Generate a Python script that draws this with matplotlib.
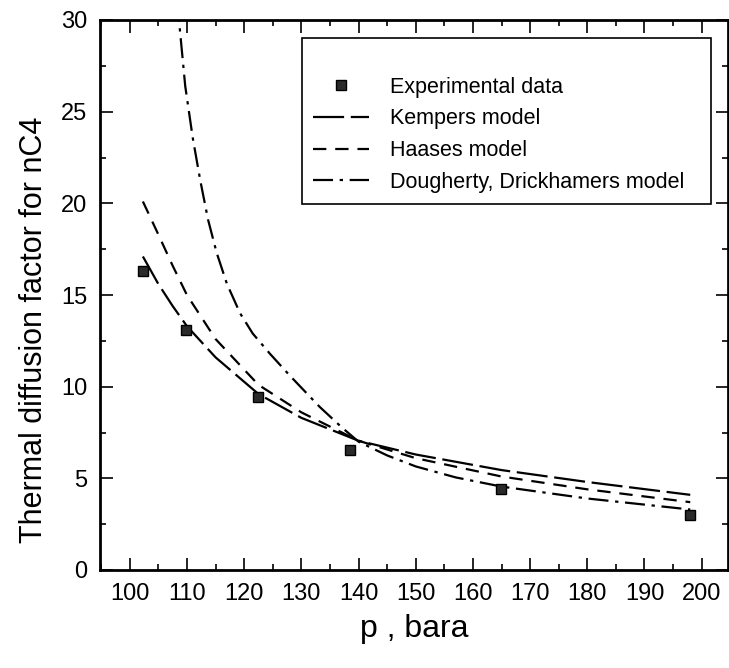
import numpy as np
import matplotlib
matplotlib.use('Agg')
import matplotlib.pyplot as plt
from matplotlib.ticker import MultipleLocator

plt.rcParams['font.family'] = ['Liberation Sans', 'DejaVu Sans']

# experimental points
p_exp = [102.3, 109.9, 122.5, 138.5, 164.9, 198.0]
a_exp = [16.3, 13.1, 9.46, 6.52, 4.40, 2.99]

# model curves
p_kemp = [102.3, 105, 107.5, 110, 115, 122.5, 130, 140, 150, 165, 180, 198]
a_kemp = [17.1, 15.6, 14.4, 13.3, 11.6, 9.6, 8.3, 7.05, 6.3, 5.45, 4.8, 4.1]

p_haas = [102.3, 105, 107.5, 110, 115, 122.5, 130, 140, 150, 165, 180, 198]
a_haas = [20.1, 18.3, 16.6, 15.0, 12.6, 10.1, 8.6, 7.05, 6.1, 5.1, 4.4, 3.7]

p_doug = [108.3, 109.7, 111, 112.3, 113.7, 115.2, 117, 119.3, 121.5, 124.5,
          128, 133.2, 137, 140, 145, 150, 157, 165, 180, 198]
a_doug = [31.0, 26.4, 23.6, 21.3, 19.1, 17.3, 15.6, 14.0, 12.9, 11.8,
          10.6, 8.9, 7.8, 7.0, 6.25, 5.65, 5.05, 4.55, 3.9, 3.3]

fig = plt.figure(figsize=(7.29, 6.68), dpi=100)
ax = fig.add_axes([100/729, 1-570/668, 628/729, 550/668])

ax.plot(p_exp, a_exp, linestyle='none', marker='s', markersize=7.5,
        markerfacecolor='#2a2a2a', markeredgecolor='black', markeredgewidth=1,
        label='Experimental data', zorder=3)
ax.plot(p_kemp, a_kemp, color='black', lw=1.6, dashes=(14, 3), label='Kempers model')
ax.plot(p_haas, a_haas, color='black', lw=1.6, dashes=(6, 4), label='Haases model')
ax.plot(p_doug, a_doug, color='black', lw=1.6, dashes=(9, 3, 1.5, 3),
        label='Dougherty, Drickhamers model')

ax.set_xlim(94.8, 204.6)
ax.set_ylim(0, 30)
ax.xaxis.set_major_locator(MultipleLocator(10))
ax.xaxis.set_minor_locator(MultipleLocator(5))
ax.yaxis.set_major_locator(MultipleLocator(5))
ax.yaxis.set_minor_locator(MultipleLocator(2.5))
ax.set_xticks(np.arange(100, 201, 10))
ax.tick_params(which='both', direction='in', top=True, right=True,
               labelsize=17, width=1.2, pad=9)
ax.tick_params(which='major', length=9)
ax.tick_params(which='minor', length=4)
for s in ax.spines.values():
    s.set_linewidth(2)

ax.set_xlabel('p , bara', fontsize=23, labelpad=7)
ax.set_ylabel('Thermal diffusion factor for nC4', fontsize=22)
ax.yaxis.set_label_coords(-0.082, 0.436)

leg = ax.legend(loc='upper left', bbox_to_anchor=(0.322, 0.967, 0.651, 0.0),
                mode='expand', fontsize=15.5, frameon=True, fancybox=False,
                edgecolor='black', handlelength=2.6, handletextpad=1.0,
                labelspacing=0.5, borderpad=0.5, borderaxespad=0,
                title=' ', title_fontsize=14)
leg.get_frame().set_linewidth(1.2)
leg.get_frame().set_alpha(1)

fig.savefig('out.png', dpi=100)
